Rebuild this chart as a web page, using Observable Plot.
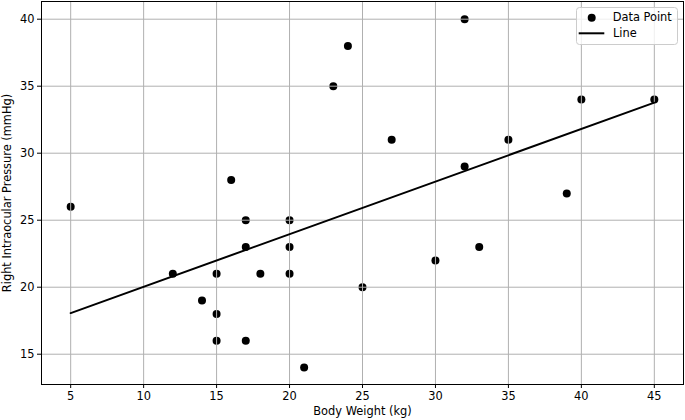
<!DOCTYPE html>
<html>
<head>
<meta charset="utf-8">
<script src="https://cdn.jsdelivr.net/npm/d3@7"></script>
<script src="https://cdn.jsdelivr.net/npm/@observablehq/plot@0.6"></script>
<style>
  html, body { margin: 0; padding: 0; background: white; }
  #wrap { position: relative; width: 685px; height: 420px; font-family: "DejaVu Sans", sans-serif; }
  #legend { position: absolute; left: 0; top: 0; pointer-events: none; }
</style>
</head>
<body>
<div id="wrap">
  <div id="chart"></div>
  <svg id="legend" width="685" height="60" font-family="DejaVu Sans, sans-serif" font-size="11.4">
    <rect x="576.5" y="7.5" width="101" height="37" rx="3" fill="white" fill-opacity="0.8" stroke="#cccccc" stroke-width="1"></rect>
    <circle cx="591.7" cy="17.7" r="4" fill="black"></circle>
    <text x="612.7" y="21.2" fill="black">Data Point</text>
    <line x1="578.7" x2="604.3" y1="33.3" y2="33.3" stroke="black" stroke-width="2"></line>
    <text x="613" y="37.3" fill="black">Line</text>
  </svg>
</div>
<script>
const bodyWeight = [5, 12, 14, 15, 15, 15, 16, 17, 17, 17, 18, 20, 20, 20, 21, 23, 24, 25, 27, 30, 32, 32, 33, 35, 39, 40, 45];
const rightIOP   = [26, 21, 19, 21, 18, 16, 28, 25, 23, 16, 21, 25, 23, 21, 14, 35, 38, 20, 31, 22, 40, 29, 23, 31, 27, 34, 34];
const xTicks = [5, 10, 15, 20, 25, 30, 35, 40, 45];
const yTicks = [15, 20, 25, 30, 35, 40];

const data = bodyWeight.map((w, i) => ({ weight: w, iop: rightIOP[i] }));

const chart = Plot.plot({
  width: 685,
  height: 420,
  marginLeft: 41,
  marginRight: 2,
  marginTop: 1,
  marginBottom: 36,
  style: { fontFamily: "DejaVu Sans, sans-serif", fontSize: "11.4px", background: "white", color: "black" },
  x: { domain: [3, 47] },
  y: { domain: [12.74, 41.32] },
  marks: [
    Plot.dot(data, { x: "weight", y: "iop", r: 4, fill: "black", stroke: "none" }),
    Plot.gridX(xTicks, { stroke: "#b0b0b0", strokeOpacity: 1, strokeWidth: 1 }),
    Plot.gridY(yTicks, { stroke: "#b0b0b0", strokeOpacity: 1, strokeWidth: 1 }),
    Plot.linearRegressionY(data, { x: "weight", y: "iop", ci: 0, stroke: "black", strokeWidth: 2 }),
    Plot.frame({ stroke: "black", strokeWidth: 1 }),
    Plot.axisX(xTicks, { tickSize: 4, tickPadding: 3, label: "Body Weight (kg)", labelAnchor: "center", labelArrow: "none", labelOffset: 30 }),
    Plot.axisY(yTicks, { tickSize: 4, tickPadding: 3, label: "Right Intraocular Pressure (mmHg)", labelAnchor: "center", labelArrow: "none", labelOffset: 39 })
  ]
});
document.getElementById("chart").appendChild(chart);
</script>
</body>
</html>
